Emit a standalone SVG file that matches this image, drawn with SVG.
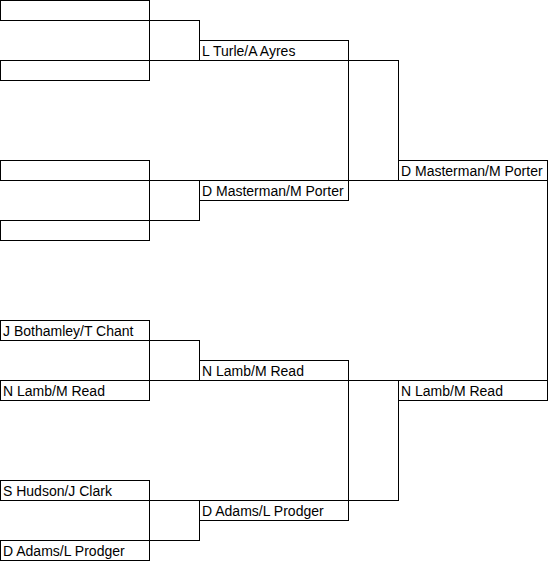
<svg xmlns="http://www.w3.org/2000/svg" width="548" height="561" viewBox="0 0 548 561">
<style>
rect, path { fill: none; stroke: #000; stroke-width: 1; shape-rendering: crispEdges; }
text { font-family: "Liberation Sans", Arial, sans-serif; font-size: 14px; fill: #000; }
</style>
<rect x="0" y="0" width="548" height="561" style="fill:#fff;stroke:none"/>
<g id="connectors">
<path d="M149.5,20.5 H199.5 V60.5 H149.5 Z"/>
<path d="M149.5,180.5 H199.5 V220.5 H149.5 Z"/>
<path d="M149.5,340.5 H199.5 V380.5 H149.5 Z"/>
<path d="M149.5,500.5 H199.5 V540.5 H149.5 Z"/>
<path d="M348.5,60.5 H398.5 V180.5 H348.5 Z"/>
<path d="M348.5,380.5 H398.5 V500.5 H348.5 Z"/>
<path d="M398.5,180.5 H547.5 V380.5 H398.5"/>
</g>
<g id="r1a"><rect x="0.5" y="0.5" width="149" height="20"/></g>
<g id="r1b"><rect x="0.5" y="60.5" width="149" height="20"/></g>
<g id="r1c"><rect x="0.5" y="160.5" width="149" height="20"/></g>
<g id="r1d"><rect x="0.5" y="220.5" width="149" height="20"/></g>
<g id="r1e"><rect x="0.5" y="320.5" width="149" height="20"/><text x="3" y="336">J Bothamley/T Chant</text></g>
<g id="r1f"><rect x="0.5" y="380.5" width="149" height="20"/><text x="3" y="396">N Lamb/M Read</text></g>
<g id="r1g"><rect x="0.5" y="480.5" width="149" height="20"/><text x="3" y="496">S Hudson/J Clark</text></g>
<g id="r1h"><rect x="0.5" y="540.5" width="149" height="20"/><text x="3" y="556">D Adams/L Prodger</text></g>
<g id="r2a"><rect x="199.5" y="40.5" width="149" height="20"/><text x="202" y="56">L Turle/A Ayres</text></g>
<g id="r2b"><rect x="199.5" y="180.5" width="149" height="20"/><text x="202" y="196">D Masterman/M Porter</text></g>
<g id="r2c"><rect x="199.5" y="360.5" width="149" height="20"/><text x="202" y="376">N Lamb/M Read</text></g>
<g id="r2d"><rect x="199.5" y="500.5" width="149" height="20"/><text x="202" y="516">D Adams/L Prodger</text></g>
<g id="r3a"><rect x="398.5" y="160.5" width="149" height="20"/><text x="401" y="176">D Masterman/M Porter</text></g>
<g id="r3b"><rect x="398.5" y="380.5" width="149" height="20"/><text x="401" y="396">N Lamb/M Read</text></g>
</svg>
